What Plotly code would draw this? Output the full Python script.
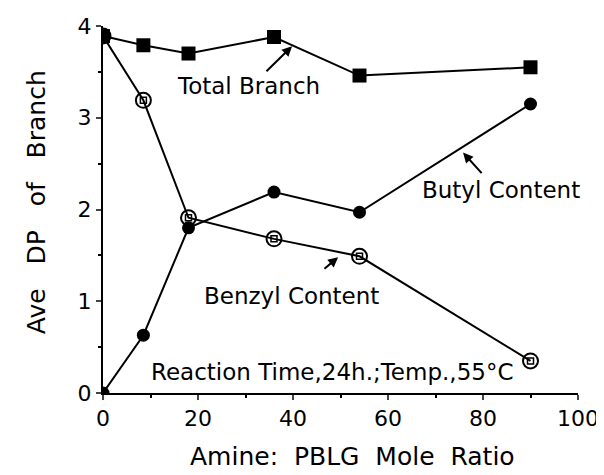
import plotly.graph_objects as go

x_ratio = [0, 8.5, 18, 36, 54, 90]
total_branch = [3.89, 3.79, 3.70, 3.88, 3.46, 3.55]
butyl_content = [0.0, 0.63, 1.80, 2.19, 1.97, 3.15]
benzyl_content = [3.89, 3.19, 1.91, 1.68, 1.49, 0.35]

x_ticks = [0, 20, 40, 60, 80, 100]
y_ticks = [0, 1, 2, 3, 4]

FONT = "DejaVu Sans"
NB = "\u00a0"

fig = go.Figure()
fig.add_trace(go.Scatter(x=x_ratio, y=total_branch, mode="lines+markers",
                         line=dict(color="black", width=2),
                         marker=dict(symbol="square", size=14, color="black")))
fig.add_trace(go.Scatter(x=x_ratio, y=butyl_content, mode="lines+markers",
                         line=dict(color="black", width=2),
                         marker=dict(symbol="circle", size=13, color="black")))
fig.add_trace(go.Scatter(x=x_ratio, y=benzyl_content, mode="lines+markers",
                         line=dict(color="black", width=2),
                         marker=dict(symbol="circle-open", size=15, color="black",
                                     line=dict(width=2, color="black"))))
fig.add_trace(go.Scatter(x=x_ratio[1:], y=benzyl_content[1:], mode="markers",
                         marker=dict(symbol="square-open", size=6, color="black",
                                     line=dict(width=1.5, color="black"))))

ann_font = dict(family=FONT, size=23, color="black")
fig.add_annotation(x=30.7, y=3.35, text="Total" + NB + "Branch", showarrow=False, font=ann_font)
fig.add_annotation(x=39.8, y=3.78, ax=34.1, ay=3.49, axref="x", ayref="y",
                   text="", showarrow=True, arrowhead=2, arrowsize=1, arrowwidth=2, arrowcolor="black")
fig.add_annotation(x=83.8, y=2.21, text="Butyl" + NB + "Content", showarrow=False, font=ann_font)
fig.add_annotation(x=75.8, y=2.62, ax=80, ay=2.38, axref="x", ayref="y",
                   text="", showarrow=True, arrowhead=2, arrowsize=1, arrowwidth=2, arrowcolor="black")
fig.add_annotation(x=39.6, y=1.06, text="Benzyl" + NB + "Content", showarrow=False, font=ann_font)
fig.add_annotation(x=49.5, y=1.48, ax=46.3, ay=1.34, axref="x", ayref="y",
                   text="", showarrow=True, arrowhead=2, arrowsize=1, arrowwidth=2, arrowcolor="black")
fig.add_annotation(x=48.2, y=0.23, text="Reaction Time,24h.;Temp.,55°C", showarrow=False, font=ann_font)

# axis titles
fig.add_annotation(xref="paper", yref="paper", x=0.526, y=-0.174,
                   xanchor="center", yanchor="middle",
                   text="Amine:" + NB * 2 + "PBLG" + NB * 2 + "Mole" + NB * 2 + "Ratio",
                   showarrow=False, font=dict(family=FONT, size=25, color="black"))
fig.add_annotation(xref="paper", yref="paper", x=-0.141, y=0.52, textangle=-90,
                   xanchor="center", yanchor="middle",
                   text="Ave" + NB * 3 + "DP" + NB * 3 + "of" + NB * 3 + "Branch",
                   showarrow=False, font=dict(family=FONT, size=25, color="black"))

# page body has an 8px margin, so the figure is sized to fit the 604x475 window
fig.update_layout(
    width=596, height=467,
    margin=dict(l=95, r=26, t=18, b=82),
    paper_bgcolor="white", plot_bgcolor="white",
    showlegend=False,
    font=dict(family=FONT, color="black"),
    xaxis=dict(range=[0, 100], tickvals=x_ticks, ticks="outside", ticklen=5, tickwidth=2,
               showline=True, linecolor="black", linewidth=2, showgrid=False, zeroline=False,
               automargin=False, tickfont=dict(size=22, family=FONT),
               minor=dict(tickvals=[10, 30, 50, 70, 90], ticks="outside", ticklen=3, tickcolor="black")),
    yaxis=dict(range=[0, 4], tickvals=y_ticks, ticks="outside", ticklen=5, tickwidth=2,
               showline=True, linecolor="black", linewidth=2, showgrid=False, zeroline=False,
               automargin=False, tickfont=dict(size=22, family=FONT),
               minor=dict(tickvals=[0.5, 1.5, 2.5, 3.5], ticks="outside", ticklen=3, tickcolor="black")),
)

fig.write_html("out.html")
